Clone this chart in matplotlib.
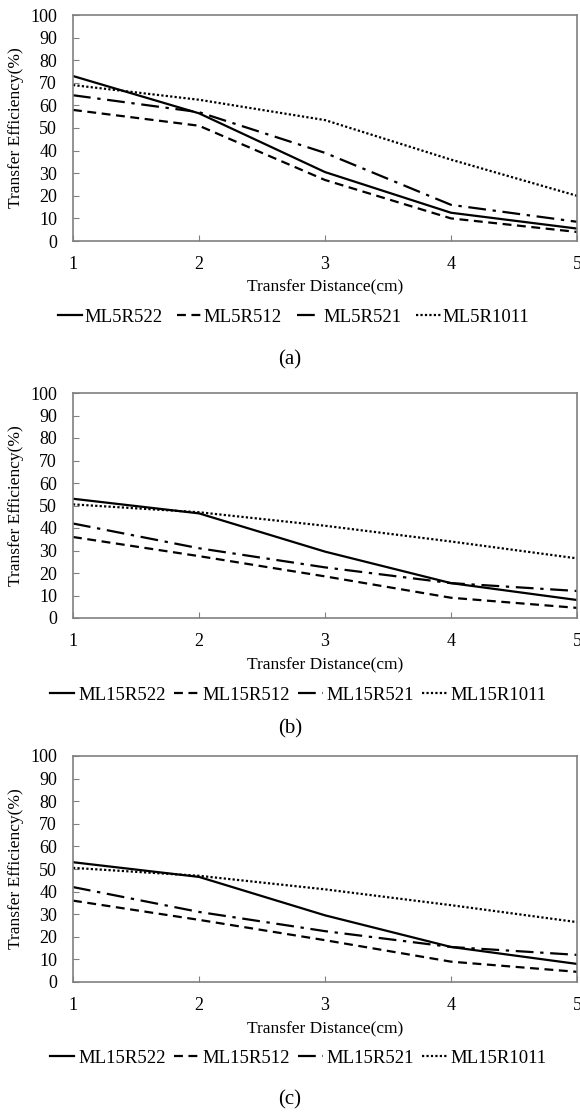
import matplotlib
matplotlib.use('Agg')
import matplotlib.pyplot as plt

plt.rcParams['font.family'] = ['Liberation Serif', 'DejaVu Serif']

distance = [1, 2, 3, 4, 5]

# panel (a)
names_a = ['ML5R522', 'ML5R512', 'ML5R521', 'ML5R1011']
a_522 = [73, 56.5, 30.5, 12.5, 5.5]
a_512 = [58, 51, 27, 10, 4]
a_521 = [64.5, 57, 39, 16, 8.5]
a_1011 = [69, 62.5, 53.5, 36, 20]

# panels (b) and (c)
names_b = ['ML15R522', 'ML15R512', 'ML15R521', 'ML15R1011']
b_522 = [53, 46.5, 29.5, 15.5, 8]
b_512 = [36, 27.5, 18.5, 9, 4.5]
b_521 = [42, 31, 22.5, 15.5, 12]
b_1011 = [50.5, 47, 41, 34, 26.5]

c_522 = list(b_522)
c_512 = list(b_512)
c_521 = list(b_521)
c_1011 = list(b_1011)

styles = ['-', (0, (4, 2.5)), (0, (8, 3, 1.5, 3)), (0, (1, 1))]

W, H = 580, 1115
fig = plt.figure(figsize=(W/100, H/100), dpi=100)

# top, bottom, xlabel y, legend y, legend left x, tag y, tag, names, data, column spacing, text pad
panels = [
    (15, 241, 287, 317, 58, 360, '(a)', names_a, [a_522, a_512, a_521, a_1011], 0.8, 0.1),
    (393, 618, 665, 695, 50, 729, '(b)', names_b, [b_522, b_512, b_521, b_1011], 0.45, 0.2),
    (756, 982, 1029, 1058, 50, 1100, '(c)', names_b, [c_522, c_512, c_521, c_1011], 0.45, 0.2),
]

for top, bot, xl_y, leg_y, leg_x, lab_y, tag, names, series, colsp, tpad in panels:
    ax = fig.add_axes([73/W, 1-bot/H, (577-73)/W, (bot-top)/H])
    for name, vals, ls in zip(names, series, styles):
        ax.plot(distance, vals, color='black', linestyle=ls, linewidth=1.6, label=name)
    ax.set_xlim(1, 5)
    ax.set_ylim(0, 100)
    ax.set_xticks(distance)
    ax.set_yticks(range(0, 101, 10))
    ax.tick_params(direction='in', length=4, color='#808080', labelsize=13)
    ax.tick_params(axis='x', pad=10.5)
    ax.tick_params(axis='y', pad=11.5)
    for s in ax.spines.values():
        s.set_color('#808080')
        s.set_linewidth(1.2)
    ax.set_ylabel('Transfer Efficiency(%)', fontsize=12.5, va='center')
    ax.yaxis.set_label_coords(-(73-16)/(577-73), 0.5)
    ax.set_xlabel('Transfer Distance(cm)', fontsize=12.5, va='center')
    ax.xaxis.set_label_coords(0.5, -(xl_y-bot)/(bot-top))
    ax.legend(loc='center left', bbox_to_anchor=(leg_x/W, 1-leg_y/H), bbox_transform=fig.transFigure,
              ncol=4, frameon=False, fontsize=13.5, handlelength=1.3, handletextpad=tpad,
              columnspacing=colsp, borderpad=0, borderaxespad=0)
    fig.text(0.5, 1-lab_y/H, tag, ha='center', va='center', fontsize=15)

fig.savefig('out.png', dpi=100)
